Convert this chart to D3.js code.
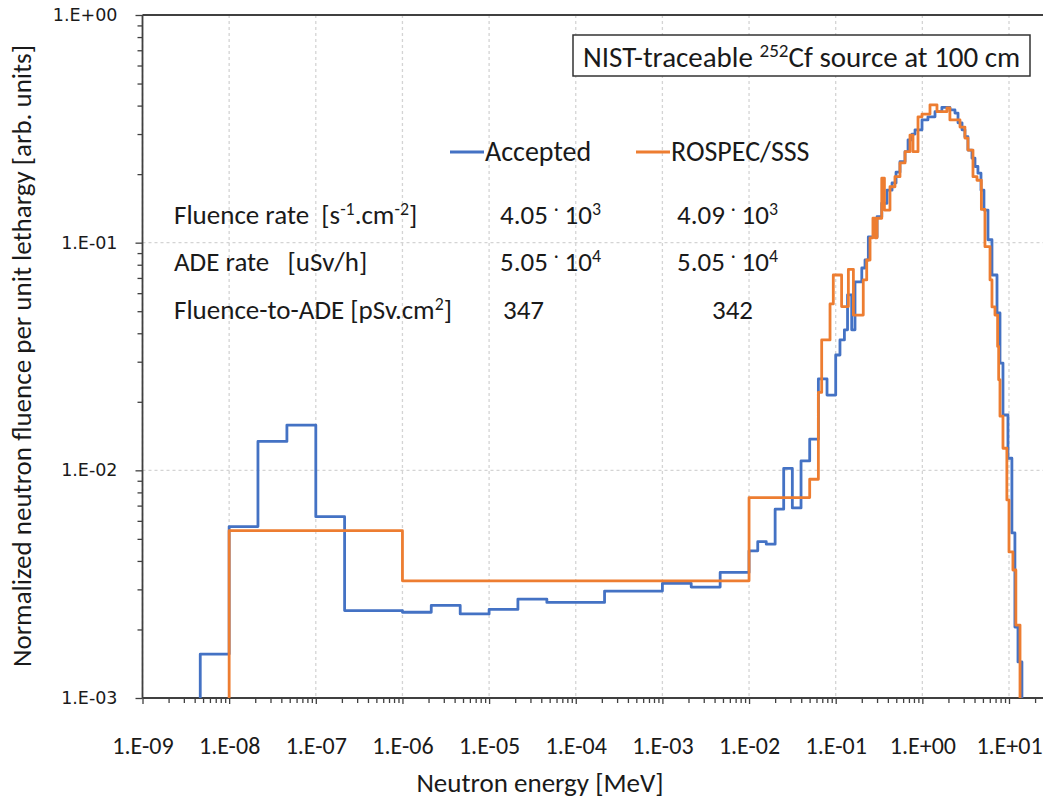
<!DOCTYPE html>
<html>
<head>
<meta charset="utf-8">
<script src="https://cdn.jsdelivr.net/npm/d3@7"></script>
<style>
  body { margin: 0; background: #fff; }
  text { font-family: Carlito, Calibri, Lato, sans-serif; fill: #1a1a1a; white-space: pre; }
  .tick text { font-family: 'DejaVu Sans', Verdana, sans-serif; }
  .grid { stroke: #d4d4d4; stroke-width: 1.3; stroke-dasharray: 3,3; }
  .step { fill: none; stroke-width: 2.8; stroke-linejoin: round; }
</style>
</head>
<body>
<div class="container"></div>
<script>
const WIDTH = 1043;
const HEIGHT = 801;
const LEFT = 142.5;
const TOP = 15;
const BOTTOM = 698;
const DECADE = 86.65;

// bin edges in MeV, value = fluence per unit lethargy in each bin
var acceptedEdges = [4.64e-9, 1e-8, 2.15e-8, 4.64e-8, 1e-7, 2.15e-7, 4.64e-7, 1e-6, 2.15e-6, 4.64e-6,
  1e-5, 2.15e-5, 4.64e-5, 1e-4, 2.15e-4, 4.64e-4, 1e-3, 2.15e-3, 4.64e-3, 1e-2,
  1.26e-2, 1.58e-2, 2e-2, 2.51e-2, 3.16e-2, 3.98e-2, 5.01e-2, 6.31e-2, 7.94e-2, 0.1,
  0.112, 0.126, 0.137, 0.153, 0.167, 0.2, 0.218, 0.238, 0.3, 0.34, 0.391, 0.447, 0.497, 0.552,
  0.631, 0.684, 0.76, 0.823, 0.991, 1.16, 1.4, 1.68, 2.08, 2.38, 2.58, 2.87, 3.1, 3.36, 3.74,
  4.05, 4.38, 4.75, 5.14, 5.72, 6.36, 7.27, 7.87, 8.52, 9.73, 10.8, 11.7, 12.7, 14.1];
var acceptedValues = [1.56e-3, 5.66e-3, 1.34e-2, 1.58e-2, 6.26e-3, 2.42e-3, 2.42e-3, 2.38e-3, 2.55e-3,
  2.34e-3, 2.45e-3, 2.72e-3, 2.63e-3, 2.63e-3, 2.95e-3, 2.95e-3, 3.19e-3, 3.07e-3, 3.56e-3,
  4.43e-3, 4.86e-3, 4.74e-3, 6.75e-3, 1.02e-2, 6.84e-3, 1.10e-2, 1.37e-2, 2.52e-2, 2.14e-2,
  0.0321, 0.0374, 0.0414, 0.059, 0.0414, 0.0672, 0.0774, 0.0839, 0.106, 0.13,
  0.149, 0.17, 0.183, 0.204, 0.227, 0.251, 0.283, 0.30, 0.313, 0.346,
  0.357, 0.376, 0.393, 0.383, 0.371, 0.336, 0.313, 0.292, 0.255, 0.235,
  0.216, 0.202, 0.17, 0.139, 0.103, 0.0721, 0.0491, 0.0296, 0.0175, 0.0113,
  5.31e-3, 2.05e-3, 1.44e-3];

var rospecEdges = [1e-8, 1e-6, 1e-2, 5.01e-2, 6.31e-2, 0.0689, 0.086, 0.0938, 0.117, 0.14,
  0.16, 0.208, 0.228, 0.249, 0.269, 0.285, 0.3, 0.34, 0.365, 0.423,
  0.483, 0.552, 0.631, 0.72, 0.78, 0.891, 0.991, 1.225, 1.475, 1.92,
  2.08, 2.72, 3.1, 3.36, 3.84, 4.27, 4.8, 5.28, 6.04, 6.36,
  6.89, 7.39, 7.6, 7.87, 8.52, 9.45, 10.0, 11.1, 12.0, 13.4];
var rospecValues = [5.43e-3, 3.27e-3, 7.59e-3, 9.14e-3, 0.022, 0.0374, 0.0538, 0.0721, 0.0524, 0.0764,
  0.0481, 0.0686, 0.0839, 0.105, 0.128, 0.105, 0.128, 0.192, 0.139, 0.176,
  0.195, 0.224, 0.251, 0.297, 0.251, 0.357, 0.367, 0.403, 0.376, 0.391,
  0.346, 0.322, 0.288, 0.255, 0.195, 0.188, 0.14, 0.096, 0.0686, 0.0522,
  0.0481, 0.035, 0.025, 0.0173, 0.0125, 7.41e-3, 4.38e-3, 3.65e-3, 2.09e-3];

var xTicks = [1e-9, 1e-8, 1e-7, 1e-6, 1e-5, 1e-4, 1e-3, 1e-2, 1e-1, 1, 10];
var yTicks = [1e-3, 1e-2, 1e-1, 1];
var seriesNames = ['Accepted', 'ROSPEC/SSS'];
var seriesColors = ['#4472C4', '#ED7D31'];

var statLabels = [
  [{t: 'Fluence rate  [s'}, {t: '-1', sup: true}, {t: '.cm'}, {t: '-2', sup: true}, {t: ']'}],
  [{t: 'ADE rate   [uSv/h]'}],
  [{t: 'Fluence-to-ADE [pSv.cm'}, {t: '2', sup: true}, {t: ']'}]
];
var acceptedStats = [['4.05', '3'], ['5.05', '4'], ['347', null]];
var rospecStats = [['4.09', '3'], ['5.05', '4'], ['342', null]];

var translate = function(x, y) {
  return 'translate(' + x + ',' + y + ')';
};

var expLabel = function(d) {
  var e = Math.round(Math.log10(d));
  return '1.E' + (e < 0 ? '-' : '+') + String(Math.abs(e)).padStart(2, '0');
};

// append text parts, raising the superscript ones
var richText = function(sel, parts, lift) {
  var shift = 0;
  parts.forEach(function(p) {
    var target = p.sup ? -lift : 0;
    var ts = sel.append('tspan').text(p.t);
    if (target !== shift) { ts.attr('dy', target - shift); shift = target; }
    if (p.sup) ts.attr('font-size', '0.66em');
  });
};

var statParts = function(s) {
  if (!s[1]) return [{t: s[0]}];
  return [{t: s[0] + ' '}, {t: '\u00B7', sup: true}, {t: ' 10'}, {t: s[1], sup: true}];
};

var minorTicks = function(lo, hi) {
  var out = [];
  for (var e = lo; e < hi; e++) {
    for (var m = 2; m <= 9; m++) out.push(m * Math.pow(10, e));
  }
  return out;
};

var stepPoints = function(edges, values, floor) {
  var pts = [[edges[0], floor]];
  values.forEach(function(v, i) {
    pts.push([edges[i], v]);
    pts.push([edges[i + 1], v]);
  });
  pts.push([edges[edges.length - 1], floor]);
  return pts;
};

var svg = d3.select('.container').append('svg')
  .attr('width', WIDTH)
  .attr('height', HEIGHT);

svg.append('rect').attr('width', WIDTH).attr('height', HEIGHT).attr('fill', '#fff');

var x = d3.scaleLog()
  .domain([1e-9, 1e2])
  .range([LEFT, LEFT + 11 * DECADE]);

var y = d3.scaleLog()
  .domain([1e-3, 1])
  .range([BOTTOM, TOP]);

// grid
svg.append('g').selectAll('line').data(xTicks).enter().append('line')
  .classed('grid', true)
  .attr('x1', function(d) { return x(d); }).attr('x2', function(d) { return x(d); })
  .attr('y1', TOP).attr('y2', BOTTOM);
svg.append('g').selectAll('line').data(yTicks).enter().append('line')
  .classed('grid', true)
  .attr('x1', LEFT).attr('x2', WIDTH)
  .attr('y1', function(d) { return y(d); }).attr('y2', function(d) { return y(d); });

// axes
var axisColor = '#404040';
var xMinor = svg.append('g').attr('transform', translate(0, BOTTOM))
  .call(d3.axisBottom(x).tickValues(minorTicks(-9, 2)).tickSize(5).tickFormat(''));
var xAxis = svg.append('g').attr('transform', translate(0, BOTTOM))
  .call(d3.axisBottom(x).tickValues(xTicks).tickSize(6).tickPadding(33).tickFormat(expLabel));
xAxis.selectAll('text').style('font-family', 'Carlito, Calibri, Lato, sans-serif').attr('font-size', 24);

var yMinor = svg.append('g').attr('transform', translate(LEFT, 0))
  .call(d3.axisLeft(y).tickValues(minorTicks(-3, 0)).tickSize(5).tickFormat(''));
var yAxis = svg.append('g').attr('transform', translate(LEFT, 0))
  .call(d3.axisLeft(y).tickValues(yTicks).tickSize(7).tickPadding(18).tickFormat(expLabel));
yAxis.selectAll('text').attr('font-size', 17.5);

[xMinor, xAxis, yMinor, yAxis].forEach(function(a) {
  a.selectAll('.domain').remove();
  a.selectAll('line').attr('stroke', axisColor).attr('stroke-width', 1.3);
  a.selectAll('text').attr('fill', '#222');
});

// plot frame
svg.append('line').attr('x1', LEFT).attr('x2', WIDTH).attr('y1', BOTTOM).attr('y2', BOTTOM)
  .attr('stroke', axisColor).attr('stroke-width', 1.8);
svg.append('line').attr('x1', LEFT).attr('x2', WIDTH).attr('y1', TOP).attr('y2', TOP)
  .attr('stroke', axisColor).attr('stroke-width', 1.8);
svg.append('line').attr('x1', LEFT).attr('x2', LEFT).attr('y1', TOP).attr('y2', BOTTOM)
  .attr('stroke', axisColor).attr('stroke-width', 1.8);

// spectra
var line = d3.line()
  .x(function(d) { return x(d[0]); })
  .y(function(d) { return y(d[1]); });

var floor = y.domain()[0];
svg.append('path').classed('step', true).attr('stroke', seriesColors[0])
  .attr('d', line(stepPoints(acceptedEdges, acceptedValues, floor)));
svg.append('path').classed('step', true).attr('stroke', seriesColors[1])
  .attr('d', line(stepPoints(rospecEdges, rospecValues, floor)));

// title box
svg.append('rect').attr('x', 573).attr('y', 35).attr('width', 457).attr('height', 41)
  .attr('fill', '#fff').attr('stroke', '#333').attr('stroke-width', 1.5);
richText(svg.append('text').attr('x', 583).attr('y', 67).attr('font-size', 29),
  [{t: 'NIST-traceable '}, {t: '252', sup: true}, {t: 'Cf source at 100 cm'}], 10);

// legend
var legendX = [450, 636];
seriesNames.forEach(function(name, i) {
  svg.append('line').attr('x1', legendX[i]).attr('x2', legendX[i] + 34)
    .attr('y1', 152).attr('y2', 152)
    .attr('stroke', seriesColors[i]).attr('stroke-width', 2.8);
  svg.append('text').attr('x', legendX[i] + 35).attr('y', 161).attr('font-size', 28).text(name);
});

// stats table
var rowY = [224, 271, 319];
statLabels.forEach(function(parts, i) {
  richText(svg.append('text').attr('x', 174).attr('y', rowY[i]).attr('font-size', 27), parts, 9);
  richText(svg.append('text').attr('x', acceptedStats[i][1] ? 500 : 503).attr('y', rowY[i]).attr('font-size', 27),
    statParts(acceptedStats[i]), 9);
  richText(svg.append('text').attr('x', rospecStats[i][1] ? 677 : 712).attr('y', rowY[i]).attr('font-size', 27),
    statParts(rospecStats[i]), 9);
});

// axis titles
svg.append('text').attr('x', 540).attr('y', 792).attr('text-anchor', 'middle')
  .attr('font-size', 27).text('Neutron energy [MeV]');
svg.append('text').attr('transform', translate(31, 356) + ' rotate(-90)')
  .attr('text-anchor', 'middle').attr('font-size', 27)
  .text('Normalized neutron fluence per unit lethargy [arb. units]');
</script>
</body>
</html>
